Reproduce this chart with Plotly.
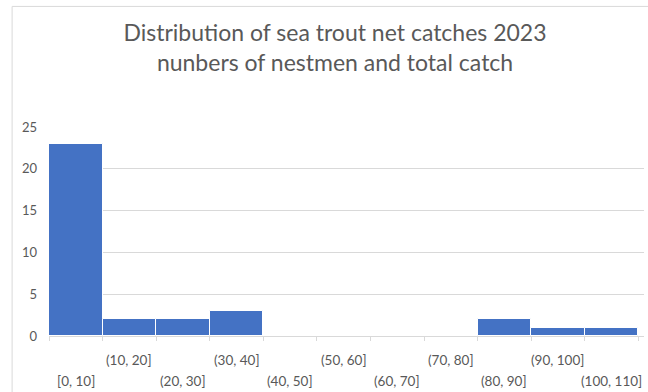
import plotly.graph_objects as go

categories = ["[0, 10]", "(10, 20]", "(20, 30]", "(30, 40]", "(40, 50]", "(50, 60]",
              "(60, 70]", "(70, 80]", "(80, 90]", "(90, 100]", "(100, 110]"]
counts = [23, 2, 2, 3, 0, 0, 0, 0, 2, 1, 1]
y_ticks = [0, 5, 10, 15, 20, 25]

fig = go.Figure(go.Bar(
    x=categories, y=counts,
    marker=dict(color="#4472C4", line=dict(color="white", width=1)),
))

# staggered category labels (Excel style): odd index upper row, even index lower row
annotations = []
for i, c in enumerate(categories):
    annotations.append(dict(
        x=c, xref="x", y=0, yref="paper", text=c, showarrow=False,
        xanchor="center", yanchor="middle",
        yshift=-24 if i % 2 == 1 else -45,
        font=dict(size=13.5, color="#595959", family="Lato, Open Sans, sans-serif"),
    ))

fig.update_layout(
    width=648, height=392,
    margin=dict(l=49, r=4, t=127, b=56),
    paper_bgcolor="white", plot_bgcolor="white",
    bargap=0,
    showlegend=False,
    font=dict(family="Lato, Open Sans, sans-serif", color="#595959"),
    title=dict(
        text="Distribution of sea trout net catches 2023<br>nunbers of nestmen and total catch",
        x=0.517, xanchor="center", y=0.895, yanchor="middle",
        font=dict(size=23, color="#595959", family="Lato, Open Sans, sans-serif"),
    ),
    xaxis=dict(
        type="category",
        showticklabels=False,
        tickson="boundaries", ticks="outside", ticklen=4, tickcolor="#d9d9d9",
        showline=True, linecolor="#d9d9d9", linewidth=1,
        showgrid=False,
    ),
    yaxis=dict(
        range=[0, 25], tickvals=y_ticks,
        showgrid=True, gridcolor="#d9d9d9", gridwidth=1,
        zeroline=False, showline=False,
        tickfont=dict(size=13, color="#595959"),
        ticks="", ticklabelstandoff=11,
    ),
    annotations=annotations,
    shapes=[
        dict(type="line", xref="paper", yref="paper", x0=-0.062, x1=-0.062, y0=-0.3, y1=1.577,
             line=dict(color="#d9d9d9", width=1)),
        dict(type="line", xref="paper", yref="paper", x0=-0.062, x1=1.01, y0=1.577, y1=1.577,
             line=dict(color="#d9d9d9", width=1)),
    ],
)

fig.write_html("out.html")
